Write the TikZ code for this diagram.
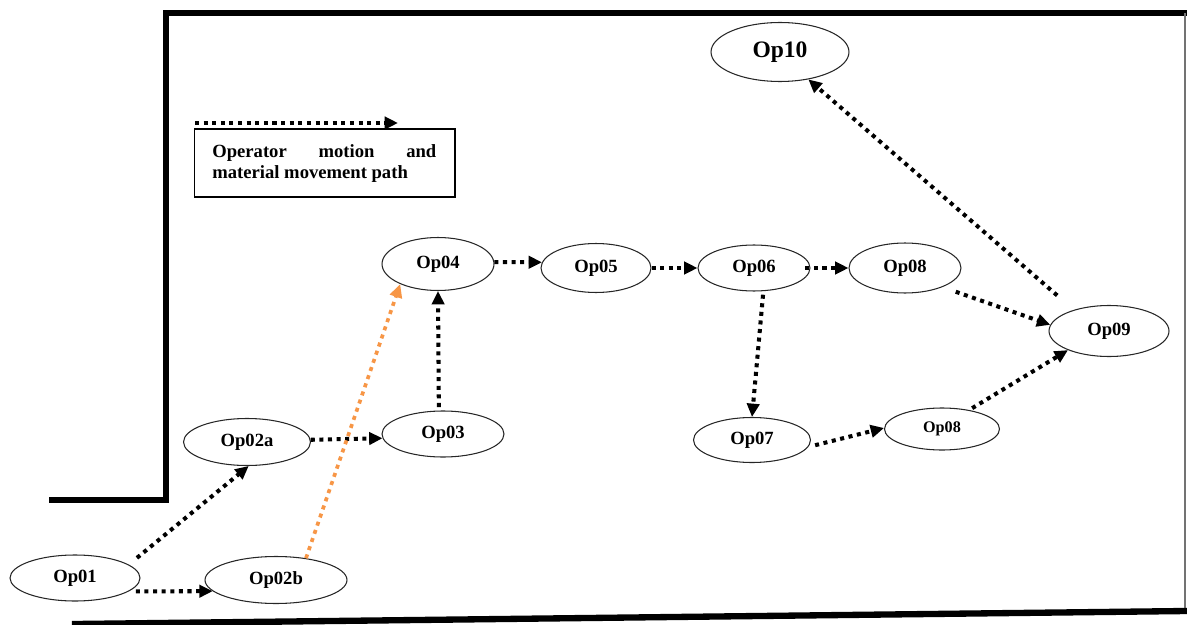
\documentclass[tikz,border=0pt]{standalone}
\usepackage{fontspec}
\setmainfont{Liberation Serif}
\usetikzlibrary{shapes.geometric,arrows.meta}
\definecolor{pathorange}{RGB}{247,150,70}
\tikzset{
  opnode/.style={ellipse, draw=black!85, line width=0.6pt, inner sep=0pt,
    font=\fontsize{10.6}{12}\selectfont\bfseries},
  flow/.style={line width=2.3pt, dash pattern=on 2.3pt off 2.6pt,
    -{Triangle[length=7.6pt,width=7pt]}},
  wall/.style={line width=3.6pt, line join=miter, line cap=rect},
}
\begin{document}
\begin{tikzpicture}[x=0.02cm, y=-0.02cm]
\useasboundingbox (0,0) rectangle (1187,625);

% building outline
\draw[wall] (52,500) -- (166,500) -- (166,13) -- (1187,13);
\draw[black!55, line width=1.1pt] (1185,13) -- (1185,611);
\draw[wall] (75,624) -- (1187,611);

% legend
\coordinate (legS) at (195,123);
\coordinate (legE) at (398,123);
\draw[flow] (legS) -- (legE);
\node[draw, line width=0.6pt, minimum width=5.22cm, minimum height=1.36cm,
  inner sep=0pt] (legend) at (324.5,163) {};
\node[anchor=base west, inner sep=0pt, font=\fontsize{10.6}{12}\selectfont\bfseries]
  (legA) at (212,157) {\makebox[4.48cm][s]{Operator motion and}};
\node[anchor=base west, inner sep=0pt, font=\fontsize{10.6}{12}\selectfont\bfseries]
  (legB) at (212,178) {material movement path};

% operations
\node[opnode, minimum width=2.60cm, minimum height=0.92cm] (op01) at (75,578) {Op01};
\node[opnode, minimum width=2.54cm, minimum height=0.94cm] (op02a) at (247,442) {Op02a};
\node[opnode, minimum width=2.84cm, minimum height=0.94cm] (op02b) at (276,580) {Op02b};
\node[opnode, minimum width=2.44cm, minimum height=0.92cm] (op03) at (443,434) {Op03};
\node[opnode, minimum width=2.24cm, minimum height=1.06cm] (op04) at (438,264) {Op04};
\node[opnode, minimum width=2.20cm, minimum height=0.98cm] (op05) at (596,268) {Op05};
\node[opnode, minimum width=2.24cm, minimum height=0.92cm] (op06) at (754,268) {Op06};
\node[opnode, minimum width=2.24cm, minimum height=1.00cm] (op08a) at (905,268) {Op08};
\node[opnode, minimum width=2.34cm, minimum height=0.90cm] (op07) at (752,440) {Op07};
\node[opnode, minimum width=2.30cm, minimum height=0.84cm,
  font=\fontsize{9.2}{11}\selectfont\bfseries] (op08b) at (942,429) {Op08};
\node[opnode, minimum width=2.40cm, minimum height=1.02cm] (op09) at (1109,331) {Op09};
\node[opnode, minimum width=2.76cm, minimum height=1.18cm,
  font=\fontsize{13.4}{15}\selectfont\bfseries] (op10) at (780,52) {Op10};

% flow paths
\draw[flow, shorten <=6pt] (op01.14) -- (op02a.-86);
\draw[flow, shorten <=4pt] (op01.-14) -- (op02b.190);
\draw[flow] (op02a.2) -- (op03.184);
\draw[flow, shorten <=2pt] (op03.100) -- (op04.south);
\draw[flow, pathorange, line width=2.1pt] (op02b.36) -- (op04.208);
\draw[flow] (op04.2) -- (op05.174);
\draw[flow] (op05.east) -- (op06.west);
\draw[flow] ([xshift=-3pt]op06.east) -- (op08a.west);
\draw[flow, shorten <=2pt] (op06.-68) -- (op07.north);
\draw[flow, shorten <=4pt] (op07.-7) -- (op08b.179);
\draw[flow, shorten <=2pt] (op08b.35) -- (op09.205);
\draw[flow, shorten <=8pt] (op08a.-27) -- (op09.174);
\draw[flow, shorten <=12.5pt] (op09.149) -- (op10.-44);
\end{tikzpicture}
\end{document}
